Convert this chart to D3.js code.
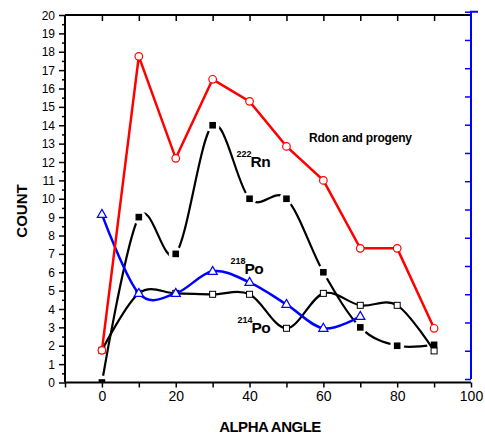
<!DOCTYPE html>
<meta charset="utf-8">
<script src="https://cdn.jsdelivr.net/npm/d3@7/dist/d3.min.js"></script>
<style>
body { margin: 0; background: #fff; }
text { font-family: "Liberation Sans", Arial, sans-serif; }
</style>
<body>
<script>

// data
var angles = [0, 10, 20, 30, 40, 50, 60, 70, 80, 90];
var radonProgeny = [1.75, 17.75, 12.2, 16.5, 15.3, 12.85, 11.0, 7.3, 7.3, 2.95];
var rn222 = [0, 9, 7, 14, 10, 10, 6, 3, 2, 2.05];
var po214 = [1.75, 4.85, 4.85, 4.8, 4.8, 2.95, 4.85, 4.2, 4.2, 1.72];
var po218Angles = [0, 10, 20, 30, 40, 50, 60, 70];
var po218 = [9.15, 4.85, 4.85, 6.05, 5.45, 4.25, 2.95, 3.6];

var xTicks = [-10, 0, 10, 20, 30, 40, 50, 60, 70, 80, 90, 100];
var xLabels = [0, 20, 40, 60, 80, 100];
var yLabels = d3.range(0, 21);

var width = 485, height = 436;
var pLeft = 65, pRight = 471, pTop = 15, pBottom = 382.5;

var x = d3.scaleLinear().domain([-10, 100]).range([pLeft, pRight]);
var y = d3.scaleLinear().domain([0, 20]).range([pBottom, pTop]);
var yRight = d3.scaleLinear().domain([0, 13]).range([379, 11.7]);

var svg = d3.select("body").append("svg")
    .attr("width", width)
    .attr("height", height);

var defs = svg.append("defs");
defs.append("clipPath").attr("id", "plot")
  .append("rect")
    .attr("x", pLeft).attr("y", pTop)
    .attr("width", pRight - pLeft).attr("height", pBottom - pTop);

function pts(xs, ys) { return xs.map(function(d, i) { return [d, ys[i]]; }); }

var rnPts = pts(angles, rn222),
    po214Pts = pts(angles, po214),
    po218Pts = pts(po218Angles, po218),
    redPts = pts(angles, radonProgeny);

// gap round the filled squares (origin draws the spline with gaps)
var mask = defs.append("mask").attr("id", "rngap")
    .attr("maskUnits", "userSpaceOnUse")
    .attr("x", 0).attr("y", 0).attr("width", width).attr("height", height);
mask.append("rect").attr("width", width).attr("height", height).attr("fill", "#fff");
mask.selectAll("circle").data(rnPts).enter().append("circle")
    .attr("cx", function(d) { return x(d[0]); })
    .attr("cy", function(d) { return y(d[1]); })
    .attr("r", 7)
    .attr("fill", "#000");

var spline = d3.line()
    .x(function(d) { return x(d[0]); })
    .y(function(d) { return y(d[1]); })
    .curve(d3.curveCardinal.tension(0));
var straight = d3.line()
    .x(function(d) { return x(d[0]); })
    .y(function(d) { return y(d[1]); });

var plot = svg.append("g").attr("clip-path", "url(#plot)");

// 222Rn
plot.append("path").attr("d", spline(rnPts))
    .attr("fill", "none").attr("stroke", "#000").attr("stroke-width", 2.2)
    .attr("mask", "url(#rngap)");
// 214Po
plot.append("path").attr("d", spline(po214Pts))
    .attr("fill", "none").attr("stroke", "#000").attr("stroke-width", 2.2);

plot.selectAll(".open").data(po214Pts).enter().append("rect")
    .attr("class", "open")
    .attr("x", function(d) { return x(d[0]) - 3; })
    .attr("y", function(d) { return y(d[1]) - 3; })
    .attr("width", 6).attr("height", 6)
    .attr("fill", "#fff").attr("stroke", "#000").attr("stroke-width", 1);

plot.selectAll(".filled").data(rnPts).enter().append("rect")
    .attr("class", "filled")
    .attr("x", function(d) { return x(d[0]) - 3.3; })
    .attr("y", function(d) { return y(d[1]) - 3.3; })
    .attr("width", 6.6).attr("height", 6.6)
    .attr("fill", "#000");

// 218Po
plot.append("path").attr("d", spline(po218Pts))
    .attr("fill", "none").attr("stroke", "#0000ff").attr("stroke-width", 2.5);
plot.selectAll(".tri").data(po218Pts).enter().append("path")
    .attr("class", "tri")
    .attr("d", "M0,-5L4.6,3L-4.6,3Z")
    .attr("transform", function(d) { return "translate(" + x(d[0]) + "," + y(d[1]) + ")"; })
    .attr("fill", "#fff").attr("stroke", "#0000ff").attr("stroke-width", 1.2);

// radon and progeny
plot.append("path").attr("d", straight(redPts))
    .attr("fill", "none").attr("stroke", "#ff0000").attr("stroke-width", 2.5);
plot.selectAll(".circ").data(redPts).enter().append("circle")
    .attr("class", "circ")
    .attr("cx", function(d) { return x(d[0]); })
    .attr("cy", function(d) { return y(d[1]); })
    .attr("r", 3.8)
    .attr("fill", "#fff").attr("stroke", "#ff0000").attr("stroke-width", 1.2);

// axes
var xAxis = d3.axisBottom(x).tickValues(xTicks).tickSize(5).tickPadding(4)
    .tickFormat(function(d) { return xLabels.indexOf(d) >= 0 ? d : ""; });
var gx = svg.append("g").attr("transform", "translate(0," + pBottom + ")").call(xAxis);
gx.select(".domain").attr("d", "M" + pLeft + ",0H" + pRight);

var xTop = d3.axisTop(x).tickValues(xTicks.slice(1, -1)).tickSize(-6).tickFormat("");
var gt = svg.append("g").attr("transform", "translate(0," + pTop + ")").call(xTop);
gt.select(".domain").attr("d", "M" + pLeft + ",0H" + pRight);

var yAxis = d3.axisLeft(y).tickValues(yLabels).tickSize(6).tickPadding(4);
var gy = svg.append("g").attr("transform", "translate(" + pLeft + ",0)").call(yAxis);
gy.select(".domain").attr("d", "M0," + pBottom + "V" + pTop);
var yMinor = d3.axisLeft(y).tickValues(d3.range(0, 20).map(function(d) { return d + 0.5; }))
    .tickSize(3).tickFormat("");
var gym = svg.append("g").attr("transform", "translate(" + pLeft + ",0)").call(yMinor);
gym.select(".domain").remove();

[gx, gt, gy, gym].forEach(function(g) {
    g.select(".domain").attr("stroke", "#000").attr("stroke-width", 2);
    g.selectAll(".tick line").attr("stroke", "#000").attr("stroke-width", 1.5);
    g.selectAll(".tick text").attr("fill", "#000")
        .style("font-family", "'Liberation Sans', Arial, sans-serif");
});
gx.selectAll(".tick text").attr("font-size", 14);
gy.selectAll(".tick text").attr("font-size", 12).attr("dy", "0.34em");

// right blue axis, no labels
var yR = d3.axisRight(yRight).tickValues(d3.range(0, 14)).tickSize(-6).tickFormat("");
var gr = svg.append("g").attr("transform", "translate(" + pRight + ",0)").call(yR);
gr.select(".domain").attr("d", "M0," + yRight(0) + "V" + yRight(13) + "H7")
    .attr("stroke", "#0000ff").attr("stroke-width", 2).attr("fill", "none");
gr.selectAll(".tick line").attr("stroke", "#0000ff").attr("stroke-width", 1.5);

// titles
svg.append("text")
    .attr("transform", "translate(27,211) rotate(-90)")
    .attr("text-anchor", "middle")
    .attr("font-size", 15).attr("font-weight", "bold")
    .text("COUNT");
svg.append("text")
    .attr("x", 270).attr("y", 432)
    .attr("text-anchor", "middle")
    .attr("font-size", 15).attr("font-weight", "bold")
    .attr("letter-spacing", -0.5)
    .text("ALPHA ANGLE");

svg.append("text")
    .attr("x", 309).attr("y", 142)
    .attr("font-size", 12).attr("font-weight", "bold")
    .attr("letter-spacing", -0.2)
    .text("Rdon and progeny");

// isotope labels
function isotope(xp, yp, mass, name) {
    svg.append("text").attr("x", xp).attr("y", yp - 10)
        .attr("font-size", 9).attr("font-weight", "bold").text(mass);
    svg.append("text").attr("x", xp + 14).attr("y", yp)
        .attr("font-size", 15.5).attr("font-weight", "bold")
        .attr("letter-spacing", -0.5).text(name);
}
isotope(236.5, 167, "222", "Rn");
isotope(230.5, 274, "218", "Po");
isotope(237.5, 333, "214", "Po");

</script>
</body>
